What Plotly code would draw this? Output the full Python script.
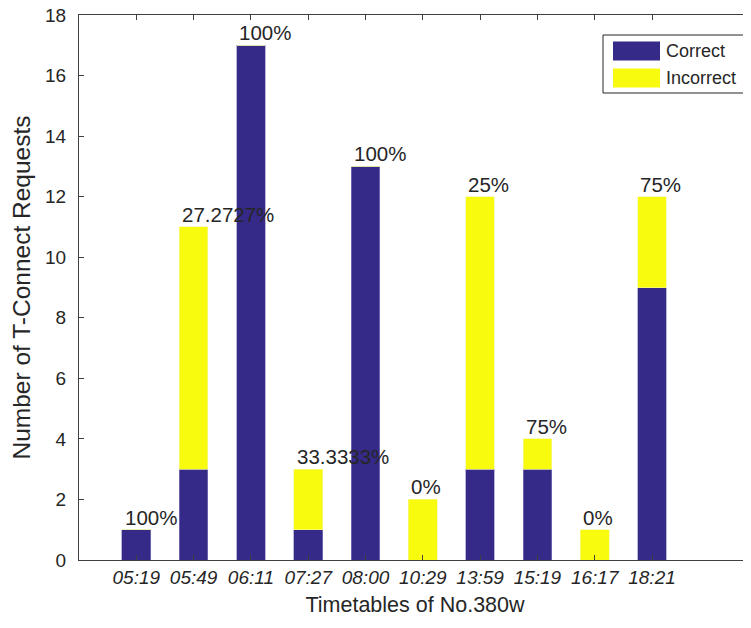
import plotly.graph_objects as go

categories = ["05:19", "05:49", "06:11", "07:27", "08:00", "10:29", "13:59", "15:19", "16:17", "18:21"]
correct = [1, 3, 17, 1, 13, 0, 3, 3, 0, 9]
incorrect = [0, 8, 0, 2, 0, 2, 9, 1, 1, 3]
pct_labels = ["100%", "27.2727%", "100%", "33.3333%", "100%", "0%", "25%", "75%", "0%", "75%"]
y_ticks = [0, 2, 4, 6, 8, 10, 12, 14, 16, 18]

BLUE = "#352A87"
YELLOW = "#F9FB0E"
TXT = "#262626"
FONT = "Liberation Sans, Arial, sans-serif"

# page has an 8px body margin; figure sized to end exactly at the window edge
OFF = 8
W, H = 743, 620
ML, MR, MT, MB = 71, 0, 7, 68
PW, PH = W - ML - MR, H - MT - MB

xpos = list(range(1, len(categories) + 1))

fig = go.Figure()
fig.add_trace(go.Bar(x=xpos, y=correct, name="Correct", marker=dict(color=BLUE, line=dict(color="#8F89C4", width=0.6)),
                     width=0.5, showlegend=False))
fig.add_trace(go.Bar(x=xpos, y=incorrect, name="Incorrect", marker=dict(color=YELLOW, line=dict(color="#F4F6A0", width=0.6)),
                     width=0.5, showlegend=False))

totals = [c + i for c, i in zip(correct, incorrect)]
for x, t, lab in zip(xpos, totals, pct_labels):
    fig.add_annotation(x=x - 0.22, y=t, text=lab, showarrow=False, xanchor="left", yanchor="bottom",
                       font=dict(size=20.5, color=TXT, family=FONT), xref="x", yref="y", borderpad=0)

# custom MATLAB-style legend (page pixel positions converted to plot-area paper coords)
def px(x):
    return (x - OFF - ML) / PW
def py(y):
    return 1 - (y - OFF - MT) / PH

lx0, lx1, ly0, ly1 = 603, 747, 35, 93
fig.add_shape(type="rect", xref="paper", yref="paper", x0=px(lx0), x1=px(lx1), y0=py(ly1), y1=py(ly0),
              line=dict(color="#262626", width=1), fillcolor="white", layer="above")
legend_items = [("Correct", BLUE, 51), ("Incorrect", YELLOW, 78)]
for name, col, yc in legend_items:
    fig.add_shape(type="rect", xref="paper", yref="paper", x0=px(613), x1=px(660), y0=py(yc + 9.5), y1=py(yc - 9.5),
                  line=dict(width=0), fillcolor=col, layer="above")
    fig.add_annotation(xref="paper", yref="paper", x=px(664), y=py(yc), text=name, showarrow=False,
                       xanchor="left", yanchor="middle", font=dict(size=18, color=TXT, family=FONT))

fig.update_layout(
    width=W, height=H,
    margin=dict(l=ML, r=MR, t=MT, b=MB, autoexpand=False),
    barmode="stack",
    plot_bgcolor="white", paper_bgcolor="white",
    font=dict(family=FONT, color=TXT),
    showlegend=False,
)
fig.update_xaxes(
    range=[0, PW / 57.3], tickvals=xpos, ticktext=["<i>%s</i>" % c for c in categories],
    tickfont=dict(size=19, color=TXT), ticks="inside", ticklen=5, tickcolor="#404040",
    showline=True, linecolor="#404040", linewidth=1, mirror="ticks", showgrid=False, zeroline=False,
    automargin=False, ticklabeloverflow="allow",
    title=dict(text="Timetables of No.380w", font=dict(size=21.5, color=TXT), standoff=10),
)
fig.update_yaxes(
    range=[0, 18], tickvals=y_ticks, tickfont=dict(size=19, color=TXT), ticks="inside", ticklen=5,
    tickcolor="#404040", showline=True, linecolor="#404040", linewidth=1, showgrid=False, zeroline=False,
    ticklabelstandoff=8, automargin=False, ticklabeloverflow="allow",
    title=dict(text="Number of T-Connect Requests", font=dict(size=24.5, color=TXT), standoff=20),
)

fig.write_html("out.html")
